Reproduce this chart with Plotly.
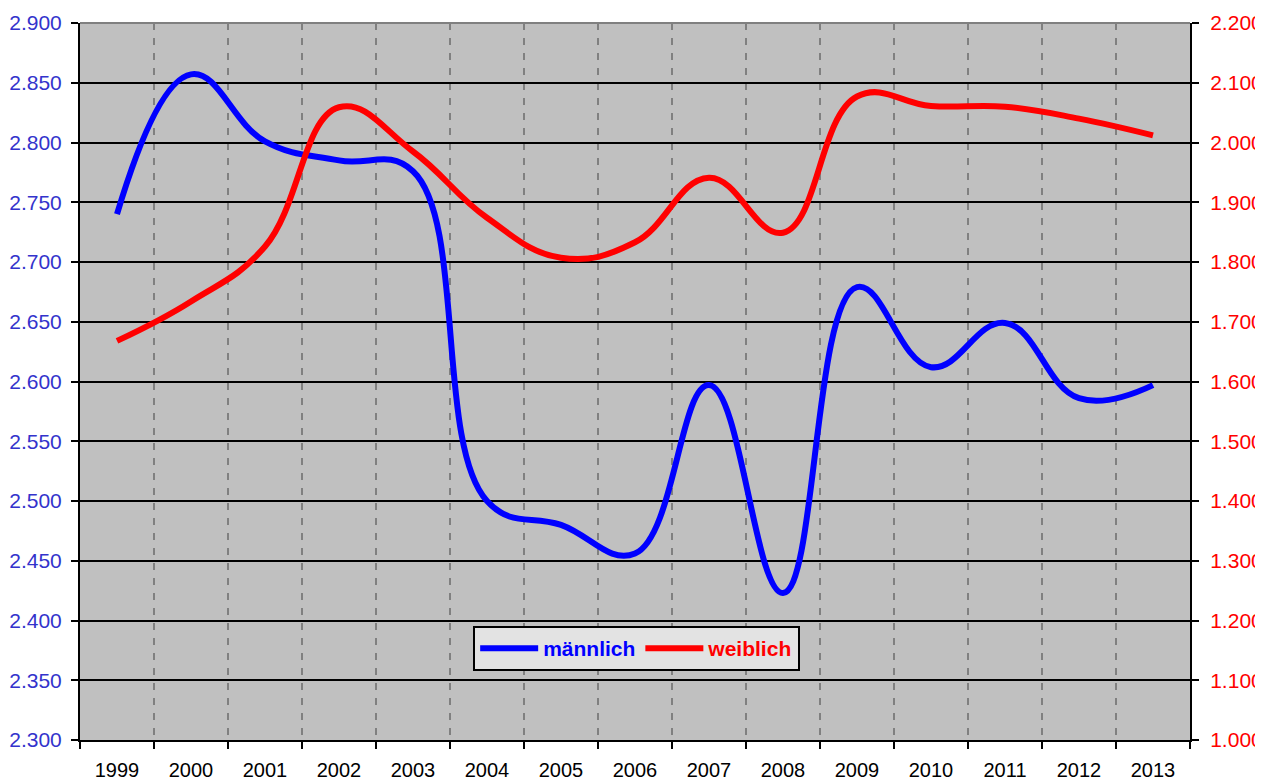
import plotly.graph_objects as go

years = [str(y) for y in range(1999, 2014)]
maennlich = [2740, 2857, 2801, 2785, 2776, 2500, 2480, 2456, 2597, 2423, 2679, 2612, 2649, 2586, 2597]
weiblich = [1668, 1734, 1826, 2059, 1985, 1874, 1807, 1833, 1941, 1849, 2077, 2061, 2060, 2040, 2012]

left_ticks = list(range(2300, 2901, 50))
right_ticks = list(range(1000, 2201, 100))

FONT = "Liberation Sans, Arial, sans-serif"
BLUE = "#0000FF"
RED = "#FF0000"

fig = go.Figure()
fig.add_trace(go.Scatter(
    x=years, y=maennlich, mode="lines",
    name="<b><span style='color:#0000FF'>männlich</span></b>",
    line=dict(color=BLUE, width=6, shape="spline", smoothing=1.2),
    yaxis="y",
))
fig.add_trace(go.Scatter(
    x=years, y=weiblich, mode="lines",
    name="<b><span style='color:#FF0000'>weiblich</span></b>",
    line=dict(color=RED, width=6, shape="spline", smoothing=1.2),
    yaxis="y2",
))

fig.update_layout(
    width=1255, height=774,
    margin=dict(l=72, r=73, t=15, b=42, autoexpand=False),
    paper_bgcolor="white",
    plot_bgcolor="#C0C0C0",
    separators=",.",
    font=dict(family=FONT, size=21, color="black"),
    showlegend=True,
    legend=dict(
        orientation="h",
        x=0.5015, xanchor="center",
        y=0.159, yanchor="top",
        bgcolor="#E3E3E3",
        bordercolor="black", borderwidth=2,
        font=dict(family=FONT, size=21),
        itemwidth=58,
        tracegroupgap=0,
    ),
    xaxis=dict(
        type="category",
        range=[-0.5, 14.5],
        tickson="boundaries",
        ticks="outside", ticklen=7, tickwidth=2, tickcolor="black",
        showline=True, linecolor="black", linewidth=2,
        showgrid=True, gridcolor="#808080", gridwidth=2, griddash="7px,8px",
        tickfont=dict(family=FONT, size=20, color="black"),
        ticklabelstandoff=11,
        zeroline=False,
    ),
    yaxis=dict(
        range=[2300, 2900],
        tickvals=left_ticks,
        tickformat=",.0f",
        ticks="outside", ticklen=7, tickwidth=2, tickcolor="black",
        showline=True, linecolor="black", linewidth=2,
        showgrid=True, gridcolor="black", gridwidth=1.5,
        tickfont=dict(family=FONT, size=21, color="#3333CC"),
        ticklabelstandoff=5,
        zeroline=False,
    ),
    yaxis2=dict(
        range=[1000, 2200],
        tickvals=right_ticks,
        tickformat=",.0f",
        overlaying="y", side="right",
        ticks="outside", ticklen=7, tickwidth=2, tickcolor="black",
        showline=True, linecolor="black", linewidth=2,
        showgrid=False,
        tickfont=dict(family=FONT, size=21, color=RED),
        ticklabelstandoff=7,
        zeroline=False,
    ),
    shapes=[dict(type="line", xref="paper", yref="paper", x0=0, x1=1, y0=1, y1=1,
                 line=dict(color="#808080", width=2), layer="above")],
)

fig.write_html("out.html")
